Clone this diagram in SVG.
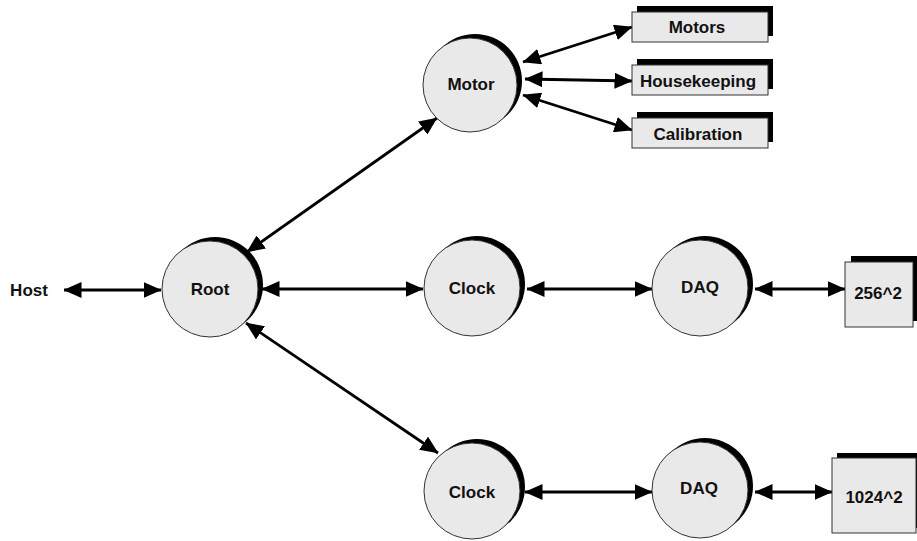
<svg xmlns="http://www.w3.org/2000/svg" width="917" height="541" viewBox="0 0 917 541">
  <style>
    .bg { fill: #ffffff; }
    .shadow { fill: #000000; }
    .face { fill: #e9e9e9; stroke: #333333; stroke-width: 1; }
    .label { font-family: "Liberation Sans", Arial, sans-serif; font-weight: bold; font-size: 17px; fill: #111111; text-anchor: middle; dominant-baseline: central; }
    .link { stroke: #000000; stroke-width: 2.8; fill: none; marker-start: url(#head); marker-end: url(#head); }
  </style>
  <defs>
    <marker id="head" viewBox="0 0 18 16" markerWidth="18" markerHeight="16" refX="17.5" refY="8" orient="auto-start-reverse" markerUnits="userSpaceOnUse">
      <path d="M0,0 L18,8 L0,16 z" fill="#000000"/>
    </marker>
  </defs>
  <rect class="bg" x="0" y="0" width="917" height="541"/>

  <!-- connectors -->
  <g id="connectors">
    <line class="link" x1="64" y1="290" x2="161" y2="290"/>
    <line class="link" x1="262" y1="289" x2="423" y2="289"/>
    <line class="link" x1="527" y1="289" x2="652" y2="289"/>
    <line class="link" x1="755" y1="289" x2="845" y2="289"/>
    <line class="link" x1="247" y1="252" x2="437" y2="118"/>
    <line class="link" x1="523" y1="62" x2="632" y2="27"/>
    <line class="link" x1="525" y1="79" x2="632" y2="81"/>
    <line class="link" x1="523" y1="95" x2="632" y2="130"/>
    <line class="link" x1="246" y1="323" x2="438" y2="453"/>
    <line class="link" x1="525" y1="492" x2="652" y2="492"/>
    <line class="link" x1="755" y1="492" x2="832" y2="492"/>
  </g>

  <!-- host label -->
  <g id="host">
    <text class="label" x="29" y="290">Host</text>
  </g>

  <!-- round nodes: black disc offset up-right gives the shadow -->
  <g id="root">
    <circle class="shadow" cx="215" cy="285" r="48"/>
    <circle class="face" cx="210" cy="289" r="48"/>
    <text class="label" x="210" y="289">Root</text>
  </g>
  <g id="motor">
    <circle class="shadow" cx="475" cy="81" r="47"/>
    <circle class="face" cx="470" cy="85" r="47"/>
    <text class="label" x="471" y="84">Motor</text>
  </g>
  <g id="clock1">
    <circle class="shadow" cx="477" cy="284" r="48"/>
    <circle class="face" cx="472" cy="288" r="48"/>
    <text class="label" x="472" y="288">Clock</text>
  </g>
  <g id="daq1">
    <circle class="shadow" cx="705" cy="284" r="48"/>
    <circle class="face" cx="700" cy="288" r="48"/>
    <text class="label" x="700" y="287">DAQ</text>
  </g>
  <g id="clock2">
    <circle class="shadow" cx="477" cy="487" r="48"/>
    <circle class="face" cx="472" cy="491" r="48"/>
    <text class="label" x="472" y="492">Clock</text>
  </g>
  <g id="daq2">
    <circle class="shadow" cx="705" cy="486" r="48"/>
    <circle class="face" cx="700" cy="490" r="48"/>
    <text class="label" x="699" y="488">DAQ</text>
  </g>

  <!-- box nodes -->
  <g id="motors">
    <rect class="shadow" x="637" y="6" width="136" height="30"/>
    <rect class="face" x="632" y="12" width="136" height="30"/>
    <text class="label" x="697" y="27">Motors</text>
  </g>
  <g id="housekeeping">
    <rect class="shadow" x="637" y="59" width="136" height="30"/>
    <rect class="face" x="632" y="65" width="136" height="30"/>
    <text class="label" x="698" y="81">Housekeeping</text>
  </g>
  <g id="calibration">
    <rect class="shadow" x="637" y="112" width="136" height="30"/>
    <rect class="face" x="632" y="118" width="136" height="30"/>
    <text class="label" x="698" y="134">Calibration</text>
  </g>
  <g id="frame256">
    <rect class="shadow" x="851" y="256" width="68" height="65"/>
    <rect class="face" x="845" y="262" width="68" height="65"/>
    <text class="label" x="878" y="293">256^2</text>
  </g>
  <g id="frame1024">
    <rect class="shadow" x="837" y="453" width="84" height="75"/>
    <rect class="face" x="832" y="458" width="84" height="75"/>
    <text class="label" x="874" y="497">1024^2</text>
  </g>
</svg>
